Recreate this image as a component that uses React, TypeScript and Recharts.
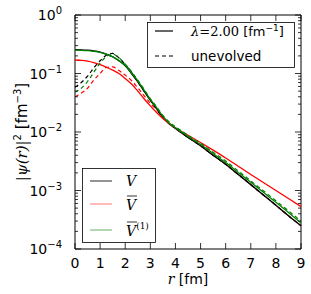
import { LineChart, Line, XAxis, YAxis, ReferenceArea } from 'recharts';

// radius grid [fm]
const rValues = [0, 0.25, 0.5, 0.75, 1, 1.25, 1.5, 1.75, 2, 2.25, 2.5, 2.75, 3, 3.25, 3.5, 3.75, 4, 4.5, 5, 5.5, 6, 6.5, 7, 7.5, 8, 8.5, 9];

// evolved (lambda = 2.00 fm^-1)
const vEvolved = [0.255, 0.254, 0.25, 0.243, 0.232, 0.215, 0.193, 0.165, 0.135, 0.1, 0.072, 0.05, 0.035, 0.025, 0.0178, 0.0138, 0.0115, 0.0081, 0.0058, 0.004, 0.0028, 0.00188, 0.00126, 0.00084, 0.00056, 0.00037, 0.00025];
const vBarEvolved = [0.17, 0.168, 0.163, 0.154, 0.142, 0.128, 0.114, 0.1, 0.082, 0.066, 0.05, 0.037, 0.028, 0.0215, 0.017, 0.014, 0.0118, 0.0088, 0.0066, 0.0049, 0.0036, 0.0026, 0.00188, 0.00137, 0.001, 0.00073, 0.00053];
const vBar1Evolved = [0.25, 0.249, 0.246, 0.239, 0.229, 0.213, 0.192, 0.166, 0.137, 0.103, 0.075, 0.052, 0.036, 0.026, 0.0185, 0.0143, 0.0118, 0.0084, 0.0061, 0.0043, 0.003, 0.00204, 0.00138, 0.00093, 0.00063, 0.00042, 0.00028];

// unevolved
const vUnevolved = [0.058, 0.07, 0.09, 0.125, 0.165, 0.205, 0.22, 0.185, 0.142, 0.105, 0.072, 0.05, 0.035, 0.025, 0.0178, 0.0138, 0.0115, 0.0081, 0.0058, 0.004, 0.0028, 0.00188, 0.00126, 0.00084, 0.00056, 0.00037, 0.00025];
const vBarUnevolved = [0.04, 0.046, 0.056, 0.077, 0.1, 0.127, 0.13, 0.112, 0.094, 0.076, 0.057, 0.042, 0.031, 0.024, 0.0178, 0.0138, 0.0115, 0.0081, 0.0058, 0.004, 0.0028, 0.00188, 0.00126, 0.00084, 0.00056, 0.00037, 0.00025];
const vBar1Unevolved = [0.048, 0.056, 0.073, 0.105, 0.15, 0.195, 0.215, 0.185, 0.145, 0.108, 0.077, 0.054, 0.037, 0.027, 0.0193, 0.015, 0.0124, 0.0088, 0.0064, 0.0045, 0.0032, 0.00216, 0.00146, 0.00099, 0.00067, 0.00045, 0.0003];

const xTicks = [0, 1, 2, 3, 4, 5, 6, 7, 8, 9];
const yMajor = [1e-4, 1e-3, 1e-2, 1e-1, 1];

const data = rValues.map((r, i) => ({
  r,
  V: vEvolved[i],
  Vbar: vBarEvolved[i],
  Vbar1: vBar1Evolved[i],
  Vu: vUnevolved[i],
  Vbaru: vBarUnevolved[i],
  Vbar1u: vBar1Unevolved[i],
}));

const yTicks: number[] = [];
yMajor.forEach((d, i) => {
  yTicks.push(d);
  if (i < yMajor.length - 1) {
    for (let k = 2; k <= 9; k++) yTicks.push(d * k);
  }
});

const W = 311;
const H = 294;
const LEFT = 75;
const RIGHT = 301;
const TOP = 15;
const BOTTOM = 249;
const FONT = 'DejaVu Sans';
const MATH = 'DejaVu Serif';

const YTick = (props: any) => {
  const { y, payload } = props;
  const v = payload.value;
  const e = Math.round(Math.log10(v));
  const major = Math.abs(Math.log10(v) - e) < 1e-6;
  const len = major ? 6 : 3;
  return (
    <g>
      <line x1={LEFT} x2={LEFT + len} y1={y} y2={y} stroke="#000" strokeWidth={0.8} />
      <line x1={RIGHT - len} x2={RIGHT} y1={y} y2={y} stroke="#000" strokeWidth={0.8} />
      {major && (
        <text x={62} y={y + 5} textAnchor="end" fontFamily={FONT} fontSize={14} fill="#000">
          10<tspan dy={-6} fontSize={10}>{e === 0 ? '0' : `\u2212${-e}`}</tspan>
        </text>
      )}
    </g>
  );
};

const XTick = (props: any) => {
  const { x, payload } = props;
  return (
    <g>
      <line x1={x} x2={x} y1={BOTTOM} y2={BOTTOM - 6} stroke="#000" strokeWidth={0.8} />
      <line x1={x} x2={x} y1={TOP} y2={TOP + 6} stroke="#000" strokeWidth={0.8} />
      <text x={x} y={268} textAnchor="middle" fontFamily={FONT} fontSize={14} fill="#000">
        {payload.value}
      </text>
    </g>
  );
};

function Overlay() {
  return (
    <svg width={W} height={H} style={{ position: 'absolute', left: 0, top: 0, pointerEvents: 'none' }}>
      {/* y label */}
      <text
        transform="translate(27,132) rotate(-90)"
        textAnchor="middle"
        fontFamily={FONT}
        fontSize={15}
        fill="#000"
      >
        <tspan fontFamily={MATH} fontStyle="italic">|ψ(r)|</tspan>
        <tspan dy={-6} fontSize={10}>2</tspan>
        <tspan dy={6}> [fm</tspan>
        <tspan dy={-6} fontSize={10}>−3</tspan>
        <tspan dy={6}>]</tspan>
      </text>
      {/* x label */}
      <text x={188} y={284} textAnchor="middle" fontFamily={FONT} fontSize={14} fill="#000">
        <tspan fontFamily={MATH} fontStyle="italic">r</tspan> [fm]
      </text>

      {/* top-right legend */}
      <rect x={147.5} y={22.5} width={147} height={45} fill="#fff" stroke="#000" strokeWidth={0.8} />
      <line x1={155} x2={173} y1={31} y2={31} stroke="#000" strokeWidth={1.2} />
      <line x1={155} x2={173} y1={56} y2={56} stroke="#000" strokeWidth={1.2} strokeDasharray="4 3" />
      <text x={191} y={36} fontFamily={FONT} fontSize={13} fill="#000">
        <tspan fontFamily={MATH} fontStyle="italic">λ</tspan>
        <tspan fontFamily={MATH}>=2.00</tspan> [fm<tspan dy={-5} fontSize={9}>−1</tspan>
        <tspan dy={5}>]</tspan>
      </text>
      <text x={191} y={61} fontFamily={FONT} fontSize={13.5} fill="#000">unevolved</text>

      {/* bottom-left legend */}
      <rect x={82.5} y={168.5} width={73} height={74} fill="#fff" stroke="#000" strokeWidth={0.8} />
      <line x1={90} x2={112} y1={181} y2={181} stroke="#000" strokeOpacity={0.7} strokeWidth={1.2} />
      <line x1={90} x2={112} y1={204} y2={204} stroke="#ff0000" strokeOpacity={0.45} strokeWidth={1.2} />
      <line x1={90} x2={112} y1={230} y2={230} stroke="#008000" strokeOpacity={0.5} strokeWidth={1.2} />
      <text x={126} y={186} fontFamily={MATH} fontStyle="italic" fontSize={14} fill="#000">V</text>
      <line x1={127} x2={137} y1={196} y2={196} stroke="#000" strokeWidth={0.8} />
      <text x={126} y={210} fontFamily={MATH} fontStyle="italic" fontSize={14} fill="#000">V</text>
      <line x1={127} x2={137} y1={222} y2={222} stroke="#000" strokeWidth={0.8} />
      <text x={126} y={236} fontFamily={MATH} fontStyle="italic" fontSize={14} fill="#000">
        V<tspan dy={-7} fontSize={9} fontStyle="normal">(1)</tspan>
      </text>
    </svg>
  );
}

export default function App() {
  return (
    <div style={{ position: 'absolute', left: 0, top: 0, width: W, height: H, background: '#fff' }}>
      <LineChart width={W} height={H} data={data} margin={{ top: TOP, right: W - RIGHT, left: 0, bottom: 0 }}>
        <XAxis
          dataKey="r"
          type="number"
          domain={[0, 9]}
          ticks={xTicks}
          height={H - BOTTOM}
          axisLine={false}
          tickLine={false}
          tick={<XTick />}
          interval={0}
        />
        <YAxis
          type="number"
          scale="log"
          domain={[1e-4, 1]}
          ticks={yTicks}
          width={LEFT}
          axisLine={false}
          tickLine={false}
          tick={<YTick />}
          interval={0}
          allowDataOverflow
        />
        <Line dataKey="Vbaru" type="monotone" stroke="#ff0000" strokeWidth={1.2} strokeDasharray="4 3" dot={false} isAnimationActive={false} />
        <Line dataKey="Vu" type="monotone" stroke="#000" strokeWidth={1.2} strokeDasharray="4 3" dot={false} isAnimationActive={false} />
        <Line dataKey="V" type="monotone" stroke="#000" strokeWidth={1.3} dot={false} isAnimationActive={false} />
        <Line dataKey="Vbar" type="monotone" stroke="#ff0000" strokeWidth={1.3} dot={false} isAnimationActive={false} />
        <Line dataKey="Vbar1" type="monotone" stroke="#008000" strokeWidth={1.3} dot={false} isAnimationActive={false} />
        <Line dataKey="Vbar1u" type="monotone" stroke="#008000" strokeWidth={1.2} strokeDasharray="4 3" dot={false} isAnimationActive={false} />
        <ReferenceArea x1={0} x2={9} y1={1e-4} y2={1} fill="none" stroke="#000" strokeWidth={1} ifOverflow="visible" />
      </LineChart>
      <Overlay />
    </div>
  );
}
